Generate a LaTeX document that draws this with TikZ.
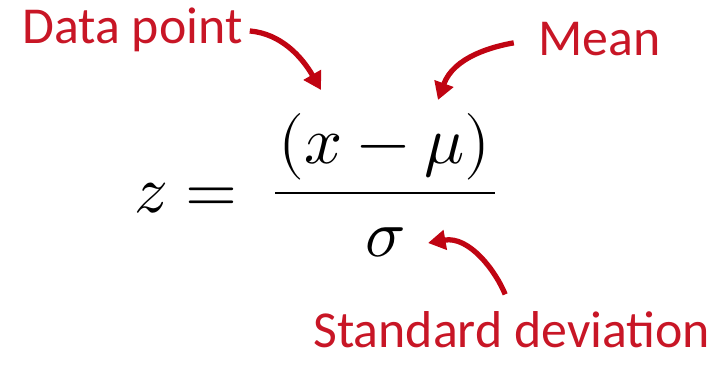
\documentclass[tikz,border=0pt]{standalone}
\usepackage{fontspec}
\usepackage{unicode-math}
\newfontfamily\labelfont{Carlito}
\definecolor{LabelRed}{RGB}{200, 22, 38}
\definecolor{ArrowRed}{RGB}{192, 4, 18}
\usetikzlibrary{arrows.meta, calc}

\tikzset{
    lbl/.style={inner sep=0pt, text=LabelRed, font=\labelfont\fontsize{29.5}{34}\selectfont},
    eqn/.style={inner sep=0pt, font=\fontsize{38}{46}\selectfont},
    redarrow/.style={draw=ArrowRed, line width=3pt, -{Triangle[length=10pt, width=11pt]}},
    fracbar/.style={line width=1.7pt}
}

\begin{document}
\begin{tikzpicture}[x=0.02cm, y=0.02cm]
    \useasboundingbox (0,0) rectangle (711,366);
    % labels
    \node[lbl, anchor=base west] (dp) at (22,322) {Data point};
    \node[lbl, anchor=base west] (mean) at (538,311) {Mean};
    \node[lbl, anchor=base west] (sd) at (313,19) {Standard deviation};
    % formula
    \node[eqn, anchor=base east] (zeq) at (238,154) {$z =$};
    \node[eqn, anchor=base] (num) at (385,203) {$(x-\mu)$};
    \node[eqn, anchor=base] (den) at (385,110) {$\sigma$};
    \draw[fracbar] (275,173) -- (495,173);
    % arrow tips
    \coordinate (xtip) at (321,276);
    \coordinate (mutip) at (438,266);
    \coordinate (sigtip) at (428,123);
    \draw[redarrow, shorten <=4pt] (dp.east) to[out=-5, in=120] (xtip);
    \draw[redarrow, shorten <=14pt] (mean.west) to[out=190, in=70] (mutip);
    \draw[redarrow, shorten <=10pt] (sd.north) to[out=112, in=10] (sigtip);
\end{tikzpicture}
\end{document}
